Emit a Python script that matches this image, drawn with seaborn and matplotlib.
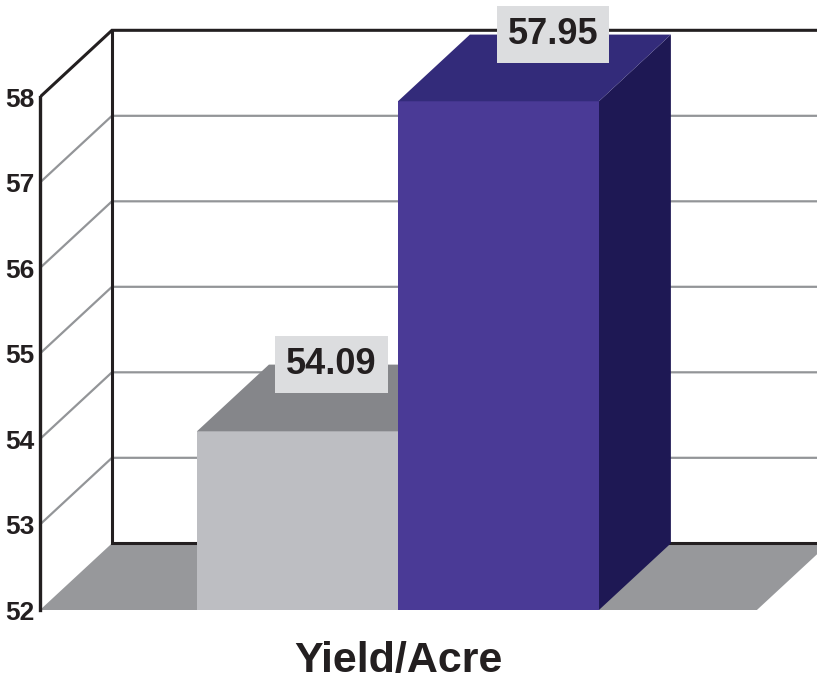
import matplotlib
matplotlib.use("Agg")
import matplotlib.pyplot as plt
from matplotlib.patches import Polygon
from matplotlib import font_manager
import seaborn as sns
import pandas as pd

# ---- data ----
categories = ["Before", "After"]
values = [54.09, 57.95]
tick_values = [52, 53, 54, 55, 56, 57, 58]
x_label = "Yield/Acre"

front_colors = ["#BDBEC2", "#4A3A96"]
top_colors = ["#85868A", "#332B7A"]
side_colors = ["#5E5F63", "#1E1854"]
label_shift = [0.17, 0.27]  # horizontal placement of value boxes (style)

sns.set_theme(style="white")
avail = {f.name for f in font_manager.fontManager.ttflist}
fam = [f for f in ["Liberation Sans Narrow", "Liberation Sans", "DejaVu Sans"] if f in avail]
plt.rcParams["font.family"] = fam

fig = plt.figure(figsize=(8.17, 6.8), dpi=100)
ax = fig.add_axes([40 / 817, 70 / 680, 777 / 817, 610 / 680])

df = pd.DataFrame({"cat": categories, "val": values})
sns.barplot(data=df, x="cat", y="val", hue="cat", palette=front_colors,
            width=1.0, legend=False, ax=ax, saturation=1, edgecolor="none")
bars = list(ax.patches)

XL, XR = -1.281, 2.585
YMIN, YMAX = 52, 52 + 610 / 85.5
DX, DY = 0.358, 0.78
XF = 2.286
ax.set_xlim(XL, XR)
ax.set_ylim(YMIN, YMAX)

dark = "#231F20"
gridc = "#939598"

# floor
ax.add_patch(Polygon([(XL, YMIN), (XL + DX, YMIN + DY), (XF + DX, YMIN + DY), (XF, YMIN)],
                     closed=True, fc="#97989B", ec="none", zorder=0.5))
# gridlines (front-left slant + back wall)
for v in tick_values[1:-1]:
    ax.plot([XL, XL + DX, XR], [v, v + DY, v + DY], color=gridc, lw=1.6, zorder=1,
            solid_joinstyle="miter")
# back wall frame
top = tick_values[-1]
ax.plot([XL, XL + DX, XR], [top, top + DY, top + DY], color=dark, lw=2.2, zorder=1.2,
        solid_joinstyle="miter")
ax.plot([XL + DX, XL + DX, XR], [top + DY, YMIN + DY, YMIN + DY], color=dark, lw=2.2,
        zorder=1.2, solid_joinstyle="miter")

# bars: front faces from seaborn, plus 3D faces
for i, (p, v) in enumerate(zip(bars, values)):
    z = 3 + 2 * i
    p.set_zorder(z)
    x0 = p.get_x()
    x1 = x0 + p.get_width()
    ax.add_patch(Polygon([(x0, v), (x0 + DX, v + DY), (x1 + DX, v + DY), (x1, v)],
                         closed=True, fc=top_colors[i], ec="none", zorder=z))
    ax.add_patch(Polygon([(x1, YMIN), (x1, v), (x1 + DX, v + DY), (x1 + DX, YMIN + DY)],
                         closed=True, fc=side_colors[i], ec="none", zorder=z - 0.5))
    ax.text(i + label_shift[i], v + DY, f"{v:.2f}", ha="center", va="center", fontsize=26,
            fontweight="bold", color=dark, zorder=10,
            bbox=dict(boxstyle="square,pad=0.3", fc="#DCDDDF", ec="none"))

# axes styling
for s in ["top", "right", "bottom"]:
    ax.spines[s].set_visible(False)
ax.spines["left"].set_bounds(YMIN, top)
ax.spines["left"].set_color(dark)
ax.spines["left"].set_linewidth(2.4)
ax.spines["left"].set_zorder(12)
ax.set_yticks(tick_values)
ax.set_yticklabels([str(t) for t in tick_values], fontsize=19, fontweight="bold", color=dark)
ax.tick_params(axis="y", length=0, pad=4)
ax.set_xticks([])
ax.set_ylabel("")
ax.set_xlabel(x_label, fontsize=31, fontweight="bold", color=dark)
ax.xaxis.set_label_coords((398 - 40) / 777, -31 / 610, transform=ax.transAxes)
ax.xaxis.label.set_va("top")
ax.patch.set_alpha(0)

fig.savefig("out.png", dpi=100)
